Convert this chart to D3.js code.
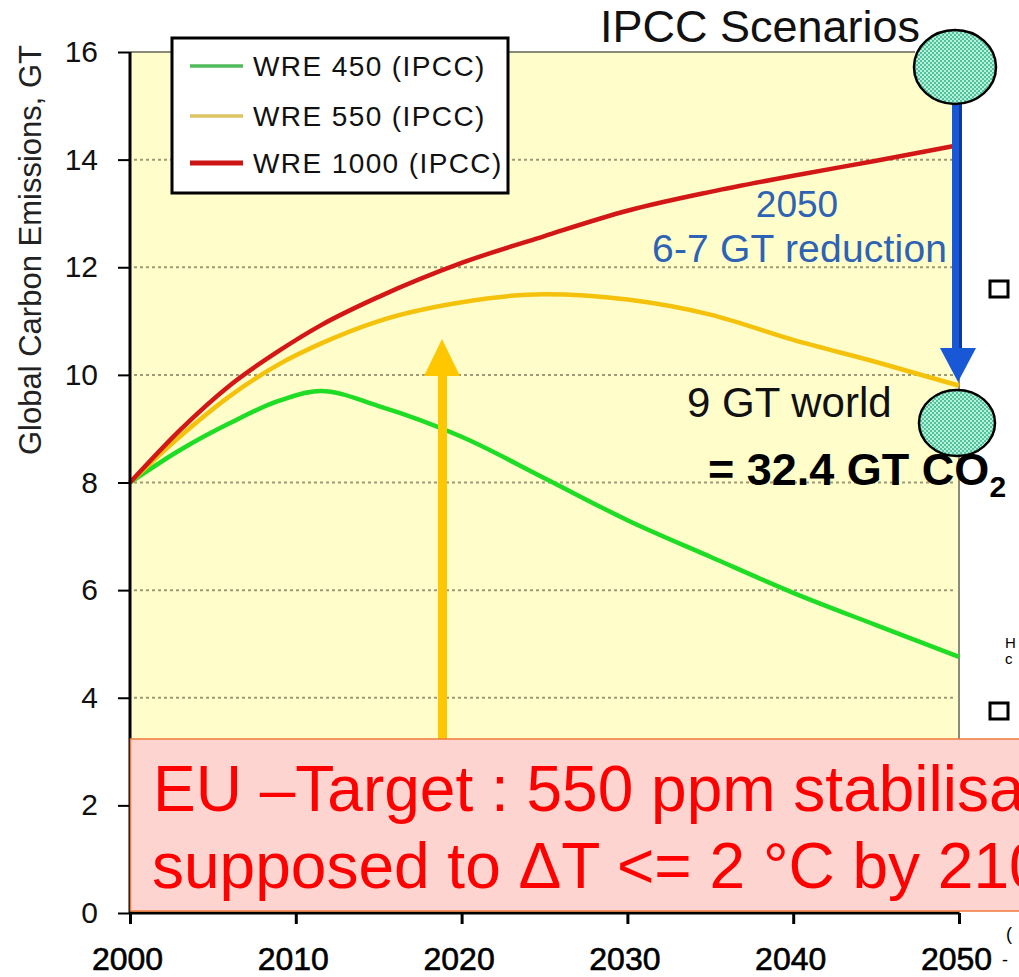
<!DOCTYPE html>
<html><head><meta charset="utf-8">
<script src="https://cdn.jsdelivr.net/npm/d3@7/dist/d3.min.js"></script>
<style>
html,body{margin:0;padding:0;background:#fff;overflow:hidden}
svg{display:block;font-family:Arial,"Liberation Sans",sans-serif}
</style></head>
<body>
<svg id="c" width="1019" height="977"></svg>
<script>
// ---- data ----
const years = [2000, 2003, 2006, 2009, 2011.5, 2015, 2020, 2025, 2030, 2035, 2040, 2045, 2050];
const wre450  = [8.0, 8.6, 9.1, 9.52, 9.7, 9.42, 8.85, 8.08, 7.3, 6.62, 5.95, 5.35, 4.76];
const wre550  = [8.0, 8.85, 9.6, 10.2, 10.58, 11.0, 11.35, 11.5, 11.4, 11.12, 10.65, 10.24, 9.8];
const wre1000 = [8.0, 8.97, 9.8, 10.45, 10.92, 11.45, 12.08, 12.58, 13.05, 13.4, 13.7, 13.98, 14.27];
const seriesNames = ["WRE 450 (IPCC)", "WRE 550 (IPCC)", "WRE 1000 (IPCC)"];
const xTicks = [2000, 2010, 2020, 2030, 2040, 2050];
const yTicks = [0, 2, 4, 6, 8, 10, 12, 14, 16];

const svg = d3.select("#c");
const x = d3.scaleLinear().domain([2000, 2050]).range([130, 959]);
const y = d3.scaleLinear().domain([0, 16]).range([913, 52]);

// pattern for circles
const defs = svg.append("defs");
const pat = defs.append("pattern").attr("id","chk").attr("width",4).attr("height",4).attr("patternUnits","userSpaceOnUse");
pat.append("rect").attr("width",4).attr("height",4).attr("fill","#b8eedc");
pat.append("rect").attr("width",2).attr("height",2).attr("fill","#4fc49a");
pat.append("rect").attr("x",2).attr("y",2).attr("width",2).attr("height",2).attr("fill","#4fc49a");

// plot background
svg.append("rect").attr("x", x(2000)).attr("y", y(16)).attr("width", x(2050)-x(2000)).attr("height", y(0)-y(16)).attr("fill", "#fffdca");

// gridlines
svg.append("g").selectAll("line").data(yTicks.filter(d => d > 0 && d < 16)).join("line")
  .attr("x1", x(2000)+4).attr("x2", x(2050)-4)
  .attr("y1", d => y(d)).attr("y2", d => y(d))
  .attr("stroke", "#9c9a78").attr("stroke-width", 2).attr("stroke-dasharray", "3,3");

// top and right borders
svg.append("line").attr("x1", x(2000)).attr("x2", 915).attr("y1", y(16)).attr("y2", y(16)).attr("stroke", "#8a8a7a").attr("stroke-width", 2);
svg.append("line").attr("x1", x(2050)).attr("x2", x(2050)).attr("y1", y(16)).attr("y2", y(0)).attr("stroke", "#8a8a7a").attr("stroke-width", 2);

// series lines
const series = [
  {name: seriesNames[0], vals: wre450, color: "#1fdc24", lcolor: "#52bb5a"},
  {name: seriesNames[1], vals: wre550, color: "#f4c20a", lcolor: "#dcc464"},
  {name: seriesNames[2], vals: wre1000, color: "#d31616", lcolor: "#cc1414"}
];
const line = d3.line().x((d,i) => x(years[i])).y(d => y(d)).curve(d3.curveMonotoneX);
svg.append("g").selectAll("path").data(series).join("path")
  .attr("d", d => line(d.vals)).attr("fill", "none")
  .attr("stroke", d => d.color).attr("stroke-width", 4.5).attr("stroke-linejoin", "round");

// axes
const yAxis = d3.axisLeft(y).tickValues(yTicks).tickSize(12).tickFormat(d3.format("d"));
const gy = svg.append("g").attr("transform", `translate(${x(2000)},0)`).call(yAxis);
gy.select(".domain").attr("stroke", "#000").attr("stroke-width", 3).attr("d", `M0,${y(16)}V${y(0)}`);
gy.selectAll(".tick line").attr("stroke", "#000").attr("stroke-width", 2);
gy.selectAll(".tick text").attr("x", -32).attr("font-size", 30).attr("font-family", "Arial, 'Liberation Sans', sans-serif").attr("fill", "#111");

const xAxis = d3.axisBottom(x).tickValues(xTicks).tickSize(11).tickFormat(d3.format("d"));
const gx = svg.append("g").attr("transform", `translate(0,${y(0)})`).call(xAxis);
gx.select(".domain").attr("stroke", "#000").attr("stroke-width", 3).attr("d", `M${x(2000)},0H${x(2050)}`);
gx.selectAll(".tick line").attr("stroke", "#000").attr("stroke-width", 3);
gx.selectAll(".tick text").attr("y", 57).attr("dy", 0).attr("dx", -3).attr("font-size", 32).attr("font-family", "Arial, 'Liberation Sans', sans-serif").attr("fill", "#000").attr("stroke", "#000").attr("stroke-width", 0.6);

// y-axis title
svg.append("text").attr("transform", "translate(41,250) rotate(-90)").attr("text-anchor", "middle")
  .attr("font-size", 31).attr("fill", "#222").text("Global Carbon Emissions, GT");

// legend
const lg = svg.append("g");
lg.append("rect").attr("x", 172).attr("y", 38).attr("width", 336).attr("height", 155).attr("fill", "#fff").attr("stroke", "#000").attr("stroke-width", 3);
const rows = [66, 116, 163];
lg.selectAll("line.l").data(series).join("line").attr("class","l")
  .attr("x1", 190).attr("x2", 243).attr("y1", (d,i) => rows[i]).attr("y2", (d,i) => rows[i])
  .attr("stroke", d => d.lcolor).attr("stroke-width", (d,i) => i === 2 ? 5 : 3.5);
lg.selectAll("text").data(series).join("text")
  .attr("x", 253).attr("y", (d,i) => rows[i] + 10).attr("font-size", 28).attr("letter-spacing", 1.4)
  .attr("fill", "#111").text(d => d.name);

// yellow arrow
svg.append("rect").attr("x", 438).attr("y", 372).attr("width", 9).attr("height", 370).attr("fill", "#ffc700");
svg.append("path").attr("d", "M424,376 L442,339 L460,376 Z").attr("fill", "#ffc700");

// red box
svg.append("rect").attr("x", 130.5).attr("y", 739).attr("width", 900).attr("height", 172).attr("fill", "#fdd4cf").attr("stroke", "#f07a3c").attr("stroke-width", 1.5);
svg.append("text").attr("x", 153).attr("y", 811).attr("font-size", 64).attr("fill", "#ff0000").text("EU \u2013Target : 550 ppm stabilisation");
svg.append("text").attr("x", 152).attr("y", 888).attr("font-size", 64).attr("fill", "#ff0000").text("supposed to \u0394T <= 2 \u00B0C by 2100");

// IPCC title
svg.append("text").attr("x", 600).attr("y", 42).attr("font-size", 45).attr("fill", "#111").text("IPCC Scenarios");

// blue arrow
svg.append("rect").attr("x", 952).attr("y", 100).attr("width", 10).attr("height", 252).attr("fill", "#1858d6");
svg.append("rect").attr("x", 959).attr("y", 100).attr("width", 3).attr("height", 252).attr("fill", "#0c3aa0");
svg.append("path").attr("d", "M940,348 L976,348 L958,382 Z").attr("fill", "#1858d6");

// circles
svg.append("ellipse").attr("cx", 955).attr("cy", 67).attr("rx", 41).attr("ry", 37).attr("fill", "url(#chk)").attr("stroke", "#000").attr("stroke-width", 2.5);
svg.append("ellipse").attr("cx", 957).attr("cy", 423).attr("rx", 38).attr("ry", 33).attr("fill", "url(#chk)").attr("stroke", "#000").attr("stroke-width", 2.5);

// annotation texts
svg.append("text").attr("x", 797).attr("y", 217).attr("text-anchor", "middle").attr("font-size", 37).attr("fill", "#2d62b4").text("2050");
svg.append("text").attr("x", 652).attr("y", 262).attr("font-size", 39).attr("fill", "#2d62b4").attr("textLength", 295).text("6-7 GT reduction");
svg.append("text").attr("x", 687).attr("y", 417).attr("font-size", 42).attr("fill", "#111").text("9 GT world");
const co = svg.append("text").attr("x", 708).attr("y", 485).attr("font-size", 45).attr("font-weight", "bold").attr("fill", "#000");
co.append("tspan").text("= 32.4 GT CO");
co.append("tspan").attr("font-size", 30).attr("dy", 12).text("2");

// small marks at the right edge
svg.append("rect").attr("x", 990).attr("y", 281).attr("width", 18).attr("height", 16).attr("fill", "#fff").attr("stroke", "#000").attr("stroke-width", 3);
svg.append("rect").attr("x", 990).attr("y", 703).attr("width", 18).attr("height", 16).attr("fill", "#fff").attr("stroke", "#000").attr("stroke-width", 3);
svg.append("text").attr("x", 1005).attr("y", 648).attr("font-size", 15).attr("fill", "#000").text("H");
svg.append("text").attr("x", 1005).attr("y", 664).attr("font-size", 15).attr("fill", "#000").text("c");
svg.append("text").attr("x", 1006).attr("y", 940).attr("font-size", 18).attr("fill", "#000").text("(");
svg.append("text").attr("x", 1002).attr("y", 966).attr("font-size", 18).attr("fill", "#000").text("-");
</script>
</body></html>
